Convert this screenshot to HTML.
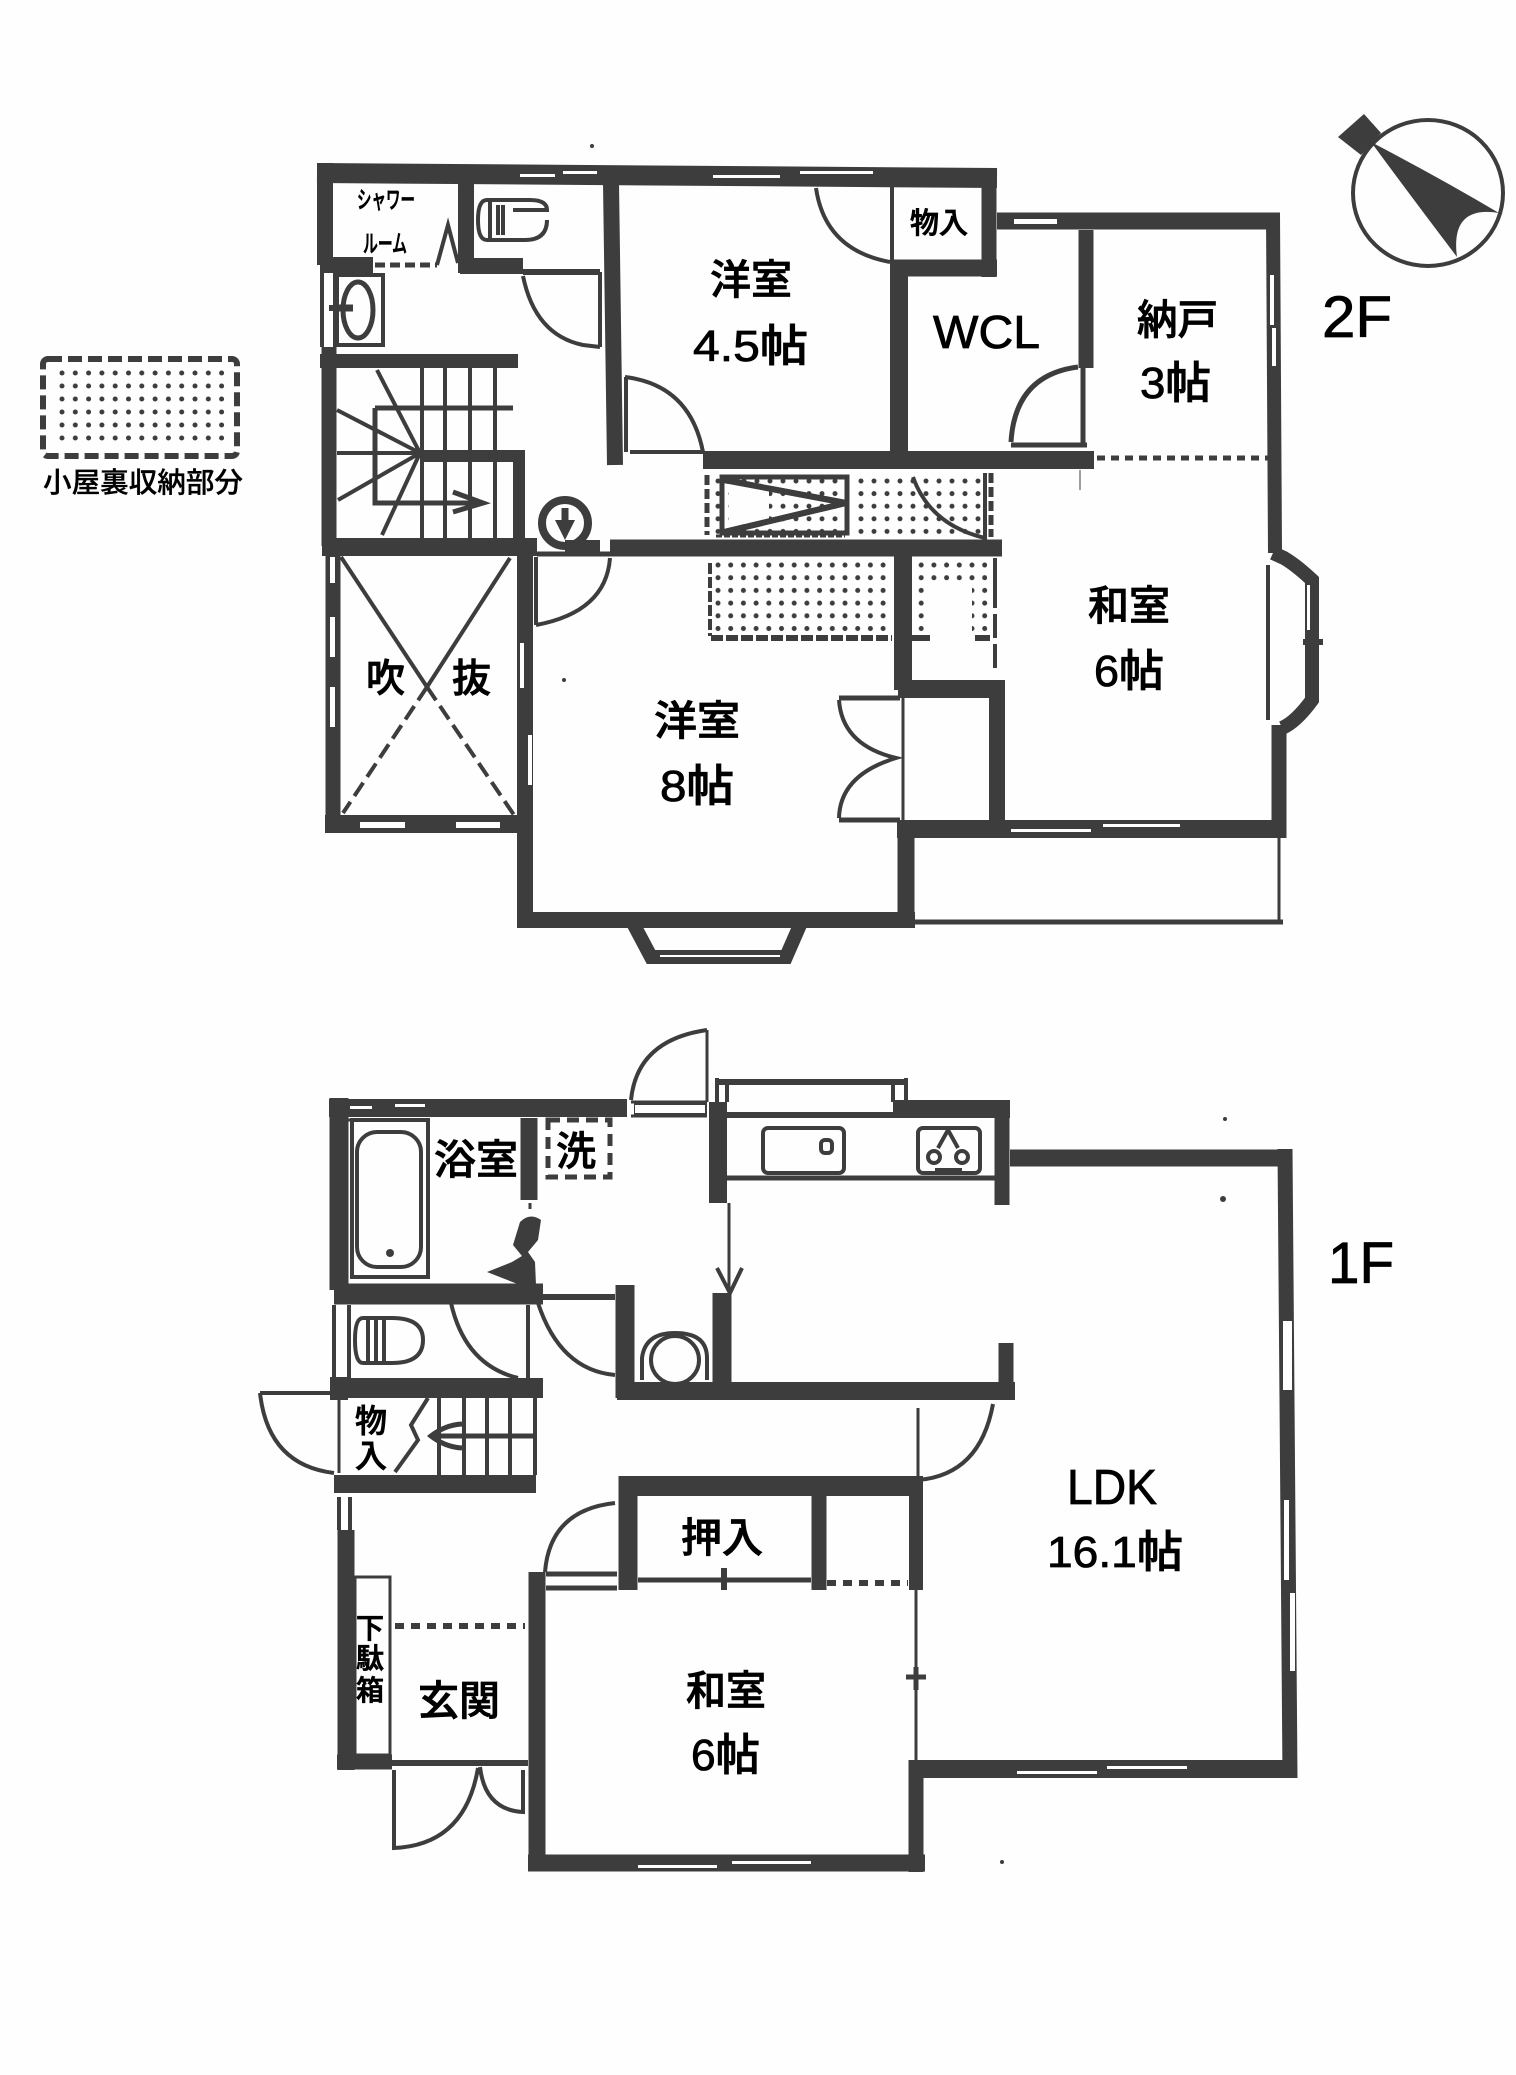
<!DOCTYPE html>
<html lang="ja"><head><meta charset="utf-8"><title>間取り図</title>
<style>
html,body{margin:0;padding:0;background:#fefefe}
svg{display:block}
text{font-family:"Liberation Sans","Noto Sans CJK JP",sans-serif;fill:#000;font-weight:500;stroke:#000;stroke-width:.8px}
</style></head><body>
<svg width="1516" height="2075" viewBox="0 0 1516 2075" xmlns="http://www.w3.org/2000/svg">
<defs>
<pattern id="d1" x="858" y="478" width="13" height="12.6" patternUnits="userSpaceOnUse"><circle cx="3" cy="3" r="2.5" fill="#3d3d3d"/></pattern>
<pattern id="d2" x="715" y="562" width="12.7" height="12.7" patternUnits="userSpaceOnUse"><circle cx="3" cy="3" r="2.5" fill="#3d3d3d"/></pattern>
<pattern id="d3" x="59" y="370" width="13.3" height="13" patternUnits="userSpaceOnUse"><circle cx="3" cy="3" r="2.5" fill="#3d3d3d"/></pattern>
</defs>
<rect width="1516" height="2075" fill="#fefefe"/>

<!-- stipple -->
<rect x="59" y="370" width="172" height="78" fill="url(#d3)"/>
<rect x="43" y="359" width="194" height="97" rx="5" fill="none" stroke="#3d3d3d" stroke-width="6" stroke-dasharray="14 6"/>
<rect x="715" y="472" width="130" height="62" fill="url(#d1)"/>
<rect x="855" y="473" width="128" height="64" fill="url(#d1)"/>
<rect x="715" y="562" width="178" height="72" fill="url(#d2)"/>
<rect x="912" y="562" width="75" height="25" fill="url(#d2)"/>
<rect x="912" y="587" width="18" height="47" fill="url(#d2)"/>
<rect x="972" y="587" width="16" height="47" fill="url(#d2)"/>
<g fill="none" stroke="#3d3d3d">
<path d="M707,475V535" stroke-width="5" stroke-dasharray="10 4"/>
<path d="M710,563V636" stroke-width="4" stroke-dasharray="11 3"/>
<path d="M711,638H892" stroke-width="6" stroke-dasharray="12 3"/>
<path d="M912,638H930M975,638H990" stroke-width="6"/>
<path d="M716,536H845" stroke-width="3" stroke-dasharray="6 2"/>
<rect x="722" y="477" width="125" height="56" stroke-width="5"/>
<path d="M724,480L846,503L724,532" stroke-width="6"/>
<path d="M991,473V537" stroke-width="5" stroke-dasharray="10 4"/>
<path d="M995,558V668" stroke-width="4" stroke-dasharray="50 6 24 6"/>
</g>
<rect x="729" y="484" width="40" height="40" fill="#fefefe"/>
<path d="M724,480L846,503L724,532" fill="none" stroke="#3d3d3d" stroke-width="6"/>

<!-- 2F thick walls -->
<g fill="none" stroke="#3d3d3d" stroke-width="18">
<path d="M317,173L997,178" stroke-width="20"/>
<path d="M325,163V265" stroke-width="16"/>
<path d="M320,265H373" stroke-width="16"/>
<path d="M466,183V273" stroke-width="16"/>
<path d="M460,266H523" stroke-width="16"/>
<path d="M611,183L615,465" stroke-width="16"/>
<path d="M320,361H518" stroke-width="14"/>
<path d="M329,347V546" stroke-width="15"/>
<path d="M420,456H525" stroke-width="12"/>
<path d="M519,450V540" stroke-width="12"/>
<path d="M322,547H537"/>
<path d="M333,543V832" stroke-width="15"/>
<path d="M610,548H1002" stroke-width="17"/>
<path d="M703,460H1094" stroke-width="18"/>
<path d="M899,262V460" stroke-width="18"/>
<path d="M890,268H997" stroke-width="17"/>
<path d="M989,168V277" stroke-width="15"/>
<path d="M997,221H1280" stroke-width="17"/>
<path d="M1086,230V368" stroke-width="15"/>
<path d="M1273,213L1275,553" stroke-width="14"/>
<path d="M1273,553L1284,558Q1296,565 1312,580V700Q1296,722 1282,728" stroke-width="14"/>
<path d="M1279,725V838" stroke-width="15"/>
<path d="M325,824H530" stroke-width="18"/>
<path d="M525,555V925" stroke-width="16"/>
<path d="M517,920H915" stroke-width="16"/>
<path d="M634,925L651,957H786L800,925" stroke-width="14"/>
<path d="M903,555V690" stroke-width="18"/>
<path d="M906,820V926" stroke-width="17"/>
<path d="M898,689H1001" stroke-width="18"/>
<path d="M997,680V826" stroke-width="16"/>
<path d="M897,829H1282" stroke-width="18"/>
</g>
<g fill="none" stroke="#3d3d3d" stroke-width="4">
<!-- 2F thin -->
<path d="M523,272H600" stroke-width="6"/>
<path d="M600,272V347" stroke-width="4"/>
<path d="M523,276Q535,335 583,345L600,347"/>
<path d="M322,273V347M335,273V347" stroke-width="4"/>
<path d="M329,308H345" stroke-width="6"/>
<rect x="337" y="275" width="46" height="70"/>
<ellipse cx="358" cy="310" rx="15" ry="28" stroke-width="5"/>
<path d="M336,308H353" stroke-width="7"/>
<path d="M375,265H437" stroke-width="5" stroke-dasharray="10 5"/>
<path d="M437,265L448,225L458,263" stroke-width="4"/>
<path d="M513,210H547Q547,200 530,200H487Q478,200 478,220Q478,240 487,240H525Q547,240 547,220" stroke-width="4"/>
<path d="M490,200V240M498,205V235M503,205V235" stroke-width="4"/>
<!-- stairs -->
<path d="M422,368V450M445,368V450M470,368V450M495,368V450M422,462V538M445,462V538M470,462V538M495,462V538" stroke-width="4"/>
<path d="M375,408H513M375,408V503H483" stroke-width="5"/>
<path d="M453,492L483,503L453,512" stroke-width="5"/>
<path d="M420,453L377,370M420,453L337,410M420,453H337M420,453L338,500M420,453L382,535" stroke-width="4"/>
<circle cx="565" cy="523" r="23" stroke-width="8"/>
<!-- doors 2F -->
<path d="M625,377Q690,385 703,452M626,377V452M630,452H704" stroke-width="4"/>
<path d="M537,554H610" stroke-width="5"/>
<path d="M610,558Q606,612 536,625M536,557V625" stroke-width="4"/>
<path d="M816,188Q825,250 890,262M892,183V262"/>
<path d="M1078,367Q1015,375 1011,442M1083,368V445M1011,445H1087" stroke-width="5"/>
<path d="M913,477Q930,525 985,538M985,473V540" stroke-width="4"/>
<path d="M1097,458H1269" stroke-width="5" stroke-dasharray="8 6"/>
<path d="M1080,470V490" stroke-width="1"/>
<path d="M839,698H900M839,820H900" stroke-width="5"/>
<path d="M903,690V820" stroke-width="3"/>
<path d="M839,700Q842,745 896,758Q840,775 839,818"/>
<path d="M1268,565V720"/>
<path d="M1303,642H1323" stroke-width="6"/>
<!-- balcony -->
<path d="M1279,838V922" stroke-width="3"/>
<path d="M915,922H1283" stroke-width="5"/>
<!-- X -->
<path d="M341,557L427,687M510,558L427,687" stroke-width="4"/>
<path d="M427,687L514,815M427,687L343,813" stroke-width="4" stroke-dasharray="16 7"/>
<!-- compass -->
<ellipse cx="1428" cy="193" rx="75" ry="73" stroke-width="4"/>
</g>
<path d="M1338,137L1364,114L1381,133L1361,155Z" fill="#3d3d3d"/>
<path d="M1371,142Q1440,178 1499,213Q1450,205 1457,257Q1410,195 1371,142Z" fill="#3d3d3d"/>
<path d="M565,508V522" stroke="#3d3d3d" stroke-width="7"/>
<path d="M555,520H575L565,540Z" fill="#3d3d3d"/>
<path d="M565,540H600V553H565Z" fill="#3d3d3d"/>

<!-- white window slits 2F -->
<g fill="#fefefe">
<rect x="520" y="174" width="35" height="3"/><rect x="563" y="171" width="34" height="3"/>
<rect x="713" y="175" width="67" height="3"/><rect x="800" y="171" width="73" height="3"/>
<rect x="1014" y="219" width="43" height="5"/>
<rect x="1270" y="275" width="4" height="50"/><rect x="1272" y="328" width="4" height="38"/>
<rect x="330" y="557" width="5" height="26"/><rect x="330" y="617" width="5" height="40"/><rect x="330" y="687" width="5" height="40"/>
<rect x="360" y="822" width="45" height="6"/><rect x="456" y="822" width="44" height="6"/>
<rect x="520" y="643" width="4" height="45"/><rect x="528" y="735" width="4" height="50"/>
<rect x="1011" y="829" width="80" height="3"/><rect x="1103" y="824" width="77" height="3"/>
<rect x="1307" y="585" width="3" height="45"/>
<rect x="660" y="955" width="120" height="2"/>
</g>

<!-- 1F walls -->
<g fill="none" stroke="#3d3d3d" stroke-width="18">
<path d="M329,1108H627" stroke-width="18"/>
<path d="M339,1098V1290" stroke-width="19"/>
<path d="M529,1118V1200" stroke-width="17"/>
<path d="M334,1294H543" stroke-width="21"/>
<path d="M625,1285V1398" stroke-width="19"/>
<path d="M334,1388H543" stroke-width="20"/>
<path d="M617,1391H1015" stroke-width="18"/>
<path d="M1006,1343V1400" stroke-width="15"/>
<path d="M718,1102V1203" stroke-width="18"/>
<path d="M722,1293V1383" stroke-width="19"/>
<path d="M893,1109H1010" stroke-width="18"/>
<path d="M1002,1100V1205" stroke-width="15"/>
<path d="M1010,1158H1292" stroke-width="17"/>
<path d="M1285,1149L1290,1778" stroke-width="15"/>
<path d="M910,1769H1297" stroke-width="18"/>
<path d="M620,1486H923" stroke-width="20"/>
<path d="M628,1476V1590" stroke-width="19"/>
<path d="M819,1490V1590" stroke-width="15"/>
<path d="M916,1476V1590" stroke-width="14"/>
<path d="M537,1572V1868" stroke-width="17"/>
<path d="M528,1863H925" stroke-width="17"/>
<path d="M916,1760V1872" stroke-width="15"/>
<path d="M334,1484H536" stroke-width="18"/>
<path d="M339,1377V1400" stroke-width="18"/>
<path d="M346,1530V1770" stroke-width="17"/>
<path d="M337,1762H392" stroke-width="15"/>
<path d="M634,1108H707" stroke-width="13"/>
</g>
<g fill="none" stroke="#3d3d3d" stroke-width="4">
<rect x="635" y="1105" width="70" height="8" fill="#fefefe" stroke="none"/>
<path d="M334,1305V1378M349,1305V1378"/>
<path d="M339,1497V1530M350,1497V1530"/>
<path d="M631,1102H707M631,1116H707" stroke-width="3"/>
<path d="M707,1030V1102" stroke-width="3"/>
<path d="M631,1100Q637,1040 707,1030"/>
<path d="M727,1115H893" stroke-width="6"/>
<path d="M717,1082H908" stroke-width="6"/>
<path d="M717,1078V1102M727,1085V1102M893,1085V1102M906,1078V1102" stroke-width="4"/>
<path d="M727,1178H995" stroke-width="5"/>
<rect x="763" y="1128" width="81" height="45" rx="5"/>
<rect x="821" y="1140" width="11" height="13" rx="4" stroke-width="4"/>
<rect x="918" y="1128" width="62" height="45" rx="5"/>
<circle cx="934" cy="1157" r="6" stroke-width="4"/><circle cx="962" cy="1157" r="6" stroke-width="4"/>
<path d="M948,1130L938,1148M948,1130L958,1148M935,1170H962" stroke-width="4"/>
<path d="M729,1203V1295" stroke-width="3"/>
<path d="M717,1268L730,1293L742,1268" stroke-width="4"/>
<path d="M530,1203V1209" stroke-width="3"/>
<!-- bath -->
<rect x="352" y="1120" width="76" height="157" stroke-width="4"/>
<rect x="357" y="1132" width="64" height="135" rx="20" stroke-width="4"/>
<path d="M338,1120H428" stroke-width="3"/>
<rect x="548" y="1120" width="62" height="57" stroke-width="5" stroke-dasharray="12 7"/>
<!-- toilet door etc -->
<path d="M543,1297H615" stroke-width="6"/>
<path d="M528,1305V1378"/>
<path d="M451,1303Q465,1365 518,1378"/>
<path d="M538,1303Q560,1370 615,1375"/>
<path d="M385,1318H363Q355,1318 355,1340Q355,1363 363,1363H392Q423,1363 423,1340Q423,1318 392,1318H385" stroke-width="4"/>
<path d="M368,1318V1363M376,1320V1361M384,1318V1363" stroke-width="4"/>
<!-- washer -->
<path d="M642,1380V1358Q645,1333 675,1333Q707,1333 707,1358V1380" stroke-width="4"/>
<circle cx="675" cy="1360" r="24" stroke-width="4"/>
<!-- 1F stairs -->
<path d="M535,1398V1475" stroke-width="4"/>
<path d="M439,1398V1475M464,1398V1475M487,1398V1475M510,1398V1475" stroke-width="4"/>
<path d="M431,1436H535" stroke-width="5"/>
<path d="M462,1424Q445,1425 431,1436Q445,1447 462,1448" stroke-width="5"/>
<path d="M428,1398L411,1425L418,1440L395,1472" stroke-width="4"/>
<path d="M260,1393H334" stroke-width="4"/>
<path d="M260,1393Q268,1465 334,1473"/>
<path d="M339,1393V1473" stroke-width="3"/>
<!-- LDK door -->
<path d="M918,1408V1480" stroke-width="3"/>
<path d="M993,1404Q980,1475 918,1480"/>
<!-- japanese room closet -->
<path d="M638,1580H811" stroke-width="5"/>
<path d="M724,1568V1590" stroke-width="6"/>
<path d="M827,1583H908" stroke-width="6" stroke-dasharray="9 7"/>
<path d="M916,1590V1760" stroke-width="3"/>
<path d="M906,1677H926M916,1667V1690" stroke-width="5"/>
<path d="M546,1574H617M546,1588H617" stroke-width="5"/>
<path d="M615,1503Q550,1510 545,1572"/>
<!-- genkan -->
<rect x="355" y="1577" width="35" height="178" stroke-width="3" />
<path d="M395,1626H525" stroke-width="6" stroke-dasharray="9 7"/>
<path d="M392,1763H528" stroke-width="6"/>
<path d="M394,1770V1848Q465,1845 478,1768"/>
<path d="M480,1767Q485,1810 523,1812V1770"/>
</g>
<!-- bath door blob -->
<path d="M513,1245L520,1222Q530,1212 541,1220L538,1240L528,1252L535,1262L536,1285H520L487,1272L512,1262L522,1256Z" fill="#3d3d3d"/>
<circle cx="390" cy="1253" r="4" fill="#3d3d3d"/>
<!-- white slits 1F -->
<g fill="#fefefe">
<rect x="1283" y="1321" width="9" height="69"/>
<rect x="1284" y="1500" width="5" height="80"/><rect x="1290" y="1593" width="5" height="78"/>
<rect x="1017" y="1771" width="80" height="3"/><rect x="1107" y="1766" width="80" height="3"/>
<rect x="638" y="1865" width="79" height="3"/><rect x="732" y="1861" width="79" height="3"/>
<rect x="395" y="1104" width="30" height="3"/><rect x="350" y="1106" width="22" height="3"/>
</g>
<!-- specks -->
<g fill="#3d3d3d"><circle cx="1225" cy="1119" r="2"/><circle cx="1223" cy="1199" r="3"/><circle cx="1002" cy="1862" r="2"/><circle cx="592" cy="146" r="2"/><circle cx="564" cy="680" r="2"/></g>

<!-- labels -->
<text x="357" y="208" font-size="24" textLength="58" lengthAdjust="spacingAndGlyphs">シャワー</text>
<text x="363" y="252" font-size="24" textLength="44" lengthAdjust="spacingAndGlyphs">ルーム</text>
<text x="710" y="294" font-size="41" textLength="82" lengthAdjust="spacingAndGlyphs">洋室</text>
<text x="693" y="361" font-size="44" textLength="115" lengthAdjust="spacingAndGlyphs">4.5帖</text>
<text x="910" y="233" font-size="29" textLength="58" lengthAdjust="spacingAndGlyphs">物入</text>
<text x="933" y="348" font-size="46" textLength="107" lengthAdjust="spacingAndGlyphs">WCL</text>
<text x="1137" y="334" font-size="41" textLength="81" lengthAdjust="spacingAndGlyphs">納戸</text>
<text x="1140" y="398" font-size="44" textLength="71" lengthAdjust="spacingAndGlyphs">3帖</text>
<text x="1322" y="337" font-size="58" textLength="70" lengthAdjust="spacingAndGlyphs">2F</text>
<text x="1088" y="620" font-size="41" textLength="82" lengthAdjust="spacingAndGlyphs">和室</text>
<text x="1094" y="686" font-size="44" textLength="70" lengthAdjust="spacingAndGlyphs">6帖</text>
<text x="654" y="735" font-size="41" textLength="86" lengthAdjust="spacingAndGlyphs">洋室</text>
<text x="660" y="801" font-size="44" textLength="74" lengthAdjust="spacingAndGlyphs">8帖</text>
<text x="366" y="692" font-size="39">吹</text>
<text x="452" y="692" font-size="39">抜</text>
<text x="43" y="492" font-size="28" textLength="200" lengthAdjust="spacingAndGlyphs" style="stroke-width:.3px">小屋裏収納部分</text>
<text x="434" y="1174" font-size="41" textLength="84" lengthAdjust="spacingAndGlyphs">浴室</text>
<text x="556" y="1165" font-size="40">洗</text>
<text x="355" y="1432" font-size="32">物</text>
<text x="355" y="1467" font-size="32">入</text>
<text x="356" y="1638" font-size="28">下</text>
<text x="356" y="1668" font-size="28">駄</text>
<text x="356" y="1700" font-size="28">箱</text>
<text x="418" y="1715" font-size="41" textLength="82" lengthAdjust="spacingAndGlyphs">玄関</text>
<text x="681" y="1552" font-size="41" textLength="82" lengthAdjust="spacingAndGlyphs">押入</text>
<text x="686" y="1705" font-size="41" textLength="80" lengthAdjust="spacingAndGlyphs">和室</text>
<text x="691" y="1770" font-size="44" textLength="69" lengthAdjust="spacingAndGlyphs">6帖</text>
<text x="1067" y="1504" font-size="49" textLength="90" lengthAdjust="spacingAndGlyphs">LDK</text>
<text x="1047" y="1567" font-size="44" textLength="136" lengthAdjust="spacingAndGlyphs">16.1帖</text>
<text x="1328" y="1283" font-size="58" textLength="66" lengthAdjust="spacingAndGlyphs">1F</text>
</svg>
</body></html>
